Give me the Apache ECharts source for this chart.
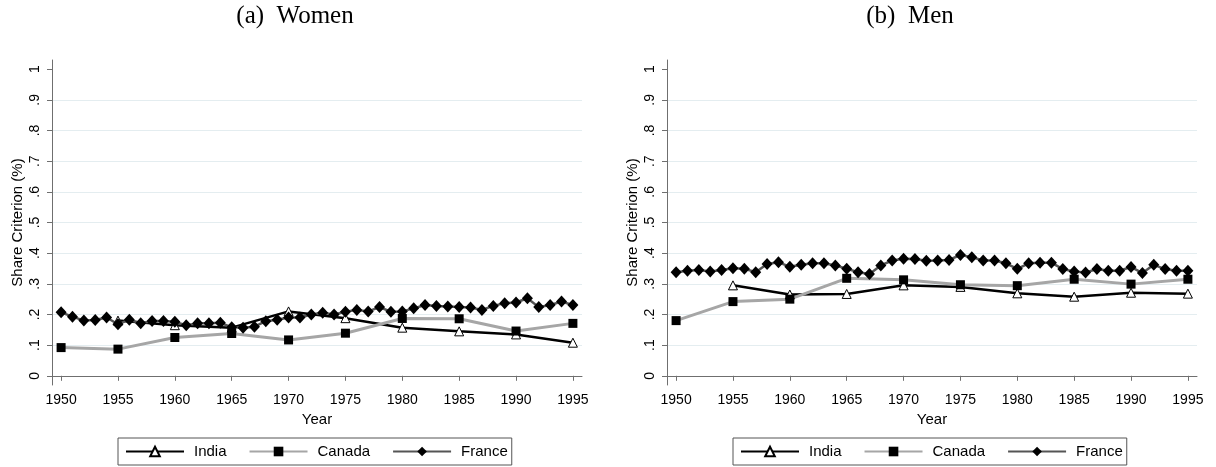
<!DOCTYPE html>
<html>
<head>
<meta charset="utf-8">
<script src="https://cdn.jsdelivr.net/npm/echarts@6/dist/echarts.min.js"></script>
<style>
  html, body { margin: 0; padding: 0; background: #fff; }
  #chart { width: 1216px; height: 467px; }
</style>
</head>
<body>
<div id="chart"></div>
<script>
// Survey years for India and Canada (every five years)
const fiveYears = [1950, 1955, 1960, 1965, 1970, 1975, 1980, 1985, 1990, 1995];
// Annual years for France
const annualYears = [
  1950, 1951, 1952, 1953, 1954, 1955, 1956, 1957, 1958, 1959,
  1960, 1961, 1962, 1963, 1964, 1965, 1966, 1967, 1968, 1969,
  1970, 1971, 1972, 1973, 1974, 1975, 1976, 1977, 1978, 1979,
  1980, 1981, 1982, 1983, 1984, 1985, 1986, 1987, 1988, 1989,
  1990, 1991, 1992, 1993, 1994, 1995
];
const xTicks = [1950, 1955, 1960, 1965, 1970, 1975, 1980, 1985, 1990, 1995];
const yTicks = [0, 0.1, 0.2, 0.3, 0.4, 0.5, 0.6, 0.7, 0.8, 0.9, 1];
const yTickLabels = ['0', '.1', '.2', '.3', '.4', '.5', '.6', '.7', '.8', '.9', '1'];

// (a) Women
const womenIndia  = [null, 0.180, 0.165, 0.157, 0.210, 0.188, 0.157, 0.145, 0.135, 0.108];
const womenCanada = [0.092, 0.087, 0.125, 0.138, 0.117, 0.139, 0.187, 0.186, 0.146, 0.171];
const womenFrance = [
  0.207, 0.193, 0.180, 0.182, 0.190, 0.168, 0.183, 0.171, 0.179, 0.179,
  0.176, 0.165, 0.171, 0.171, 0.173, 0.158, 0.157, 0.160, 0.178, 0.183,
  0.190, 0.190, 0.200, 0.206, 0.200, 0.209, 0.215, 0.210, 0.224, 0.209,
  0.210, 0.220, 0.231, 0.228, 0.226, 0.224, 0.223, 0.215, 0.228, 0.237,
  0.239, 0.253, 0.224, 0.231, 0.242, 0.231
];

// (b) Men
const menIndia  = [null, 0.295, 0.265, 0.267, 0.295, 0.290, 0.269, 0.258, 0.271, 0.268];
const menCanada = [0.180, 0.242, 0.250, 0.318, 0.313, 0.297, 0.294, 0.315, 0.299, 0.315];
const menFrance = [
  0.338, 0.343, 0.345, 0.340, 0.345, 0.351, 0.349, 0.338, 0.365, 0.370,
  0.356, 0.362, 0.367, 0.367, 0.360, 0.349, 0.338, 0.332, 0.360, 0.376,
  0.382, 0.381, 0.375, 0.376, 0.378, 0.394, 0.387, 0.376, 0.376, 0.367,
  0.349, 0.367, 0.369, 0.369, 0.348, 0.340, 0.337, 0.348, 0.343, 0.343,
  0.355, 0.335, 0.362, 0.348, 0.343, 0.343
];

const SANS = 'Liberation Sans, Arial, Helvetica, sans-serif';
const SERIF = 'Liberation Serif, Times New Roman, serif';
const AXIS_GRAY = '#6f6f6f';
const GRID_LINE = '#e4edf0';

function pairs(xs, ys) {
  return xs.map((x, i) => [x, ys[i]]).filter(p => p[1] !== null);
}

function yLabel(v) {
  const i = yTicks.findIndex(t => Math.abs(t - v) < 1e-6);
  return i >= 0 ? yTickLabels[i] : '';
}

// Inner grid lines only (none on the 0 and 1 ticks)
const splitColors = yTicks.map(t => (t === 0 || t === 1) ? 'rgba(0,0,0,0)' : GRID_LINE);

function makeX(idx) {
  return {
    type: 'value', gridIndex: idx, min: 1949.2, max: 1995.8,
    axisLine: { show: true, lineStyle: { color: AXIS_GRAY, width: 1 } },
    axisTick: { show: true, customValues: xTicks, length: 5, lineStyle: { color: AXIS_GRAY } },
    axisLabel: { customValues: xTicks, formatter: v => String(v), margin: 8,
                 fontSize: 14, color: '#000', fontFamily: SANS },
    splitLine: { show: false },
    name: 'Year', nameLocation: 'middle', nameGap: 25,
    nameTextStyle: { fontSize: 15, color: '#000', fontFamily: SANS }
  };
}

function makeY(idx) {
  return {
    type: 'value', gridIndex: idx, min: -0.03, max: 1.03,
    axisLine: { show: true, lineStyle: { color: AXIS_GRAY, width: 1 } },
    axisTick: { show: true, customValues: yTicks, length: 5, lineStyle: { color: AXIS_GRAY } },
    axisLabel: { customValues: yTicks, formatter: yLabel, rotate: 90, margin: 10,
                 fontSize: 14, color: '#000', fontFamily: SANS },
    splitLine: { show: true, lineStyle: { color: splitColors, width: 1 } },
    name: 'Share Criterion (%)', nameLocation: 'middle', nameRotate: 90, nameGap: 27,
    nameTextStyle: { fontSize: 15, color: '#000', fontFamily: SANS }
  };
}

function seriesFor(idx, india, canada, france) {
  return [
    {
      name: 'India', type: 'line', xAxisIndex: idx, yAxisIndex: idx,
      data: pairs(fiveYears, india),
      symbol: 'triangle', symbolSize: 9, showAllSymbol: true,
      itemStyle: { color: '#ffffff', borderColor: '#000', borderWidth: 1 },
      lineStyle: { color: '#000', width: 2.5 }
    },
    {
      name: 'Canada', type: 'line', xAxisIndex: idx, yAxisIndex: idx,
      data: pairs(fiveYears, canada),
      symbol: 'rect', symbolSize: 9, showAllSymbol: true,
      itemStyle: { color: '#000' },
      lineStyle: { color: '#a6a6a6', width: 3 }
    },
    {
      name: 'France', type: 'line', xAxisIndex: idx, yAxisIndex: idx,
      data: pairs(annualYears, france),
      symbol: 'diamond', symbolSize: [11, 12], showAllSymbol: true,
      itemStyle: { color: '#000' },
      lineStyle: { color: '#555555', width: 2.5 }
    }
  ];
}

function makeLegend(left) {
  return {
    left: left, top: 438,
    orient: 'horizontal',
    data: ['India', 'Canada', 'France'],
    itemWidth: 58, itemHeight: 12, itemGap: 22,
    padding: [6, 4, 6, 7],
    borderColor: '#555', borderWidth: 1,
    selectedMode: false,
    textStyle: { fontSize: 15, color: '#000', fontFamily: SANS, padding: [0, 0, 0, 5] }
  };
}

const titleStyle = { fontFamily: SERIF, fontSize: 25, fontWeight: 'normal', color: '#000' };

const option = {
  animation: false,
  backgroundColor: '#fff',
  title: [
    { text: '(a)  Women', left: 295, top: 4, textAlign: 'center', padding: 0, textStyle: titleStyle },
    { text: '(b)  Men', left: 910, top: 4, textAlign: 'center', padding: 0, textStyle: titleStyle }
  ],
  legend: [makeLegend(118), makeLegend(733)],
  grid: [
    { left: 52, top: 60, width: 530, height: 325 },
    { left: 667, top: 60, width: 530, height: 325 }
  ],
  xAxis: [makeX(0), makeX(1)],
  yAxis: [makeY(0), makeY(1)],
  series: [
    ...seriesFor(0, womenIndia, womenCanada, womenFrance),
    ...seriesFor(1, menIndia, menCanada, menFrance)
  ]
};

const chart = echarts.init(document.getElementById('chart'), null, { renderer: 'canvas' });
chart.setOption(option);
</script>
</body>
</html>
